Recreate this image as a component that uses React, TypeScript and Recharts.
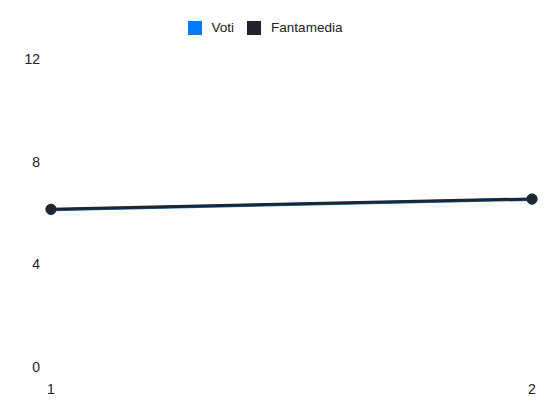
import { LineChart, Line, XAxis, YAxis, Legend } from 'recharts';

const giornate = ['1', '2'];
const voti = [6.13, 6.53];
const fantamedia = [6.15, 6.55];
const yTicks = [0, 4, 8, 12];

const data = giornate.map((g, i) => ({ g, voti: voti[i], fantamedia: fantamedia[i] }));

const FONT = '"Liberation Sans", Arial, sans-serif';

export default function App() {
  return (
    <div style={{ position: 'absolute', left: 0, top: 0, width: 550, height: 412, background: '#fff' }}>
      <LineChart width={550} height={412} data={data} margin={{ top: 20, right: 18, left: 11, bottom: 15 }}>
        <Legend
          verticalAlign="top"
          align="center"
          height={39}
          iconType="square"
          iconSize={14}
          itemSorter={null as any}
          wrapperStyle={{ fontFamily: FONT, fontSize: 13.5 }}
          formatter={(v: string) => (
            <span style={{ color: '#222', marginLeft: 6, marginRight: 3 }}>{v}</span>
          )}
        />
        <XAxis
          dataKey="g"
          axisLine={false}
          tickLine={false}
          tickMargin={11}
          height={30}
          tick={{ fontSize: 14, fill: '#222', fontFamily: FONT }}
        />
        <YAxis
          domain={[0, 12]}
          ticks={yTicks}
          axisLine={false}
          tickLine={false}
          width={40}
          tickMargin={5}
          tick={{ fontSize: 14, fill: '#222', fontFamily: FONT }}
        />
        <Line
          dataKey="voti"
          name="Voti"
          stroke="#007bff"
          strokeWidth={3}
          fill="#007bff"
          dot={{ r: 5, fill: '#007bff', stroke: '#007bff', strokeWidth: 1 }}
          isAnimationActive={false}
        />
        <Line
          dataKey="fantamedia"
          name="Fantamedia"
          stroke="#212529"
          strokeWidth={3}
          fill="#212529"
          dot={{ r: 5, fill: '#212529', stroke: '#212529', strokeWidth: 1 }}
          isAnimationActive={false}
        />
      </LineChart>
    </div>
  );
}
